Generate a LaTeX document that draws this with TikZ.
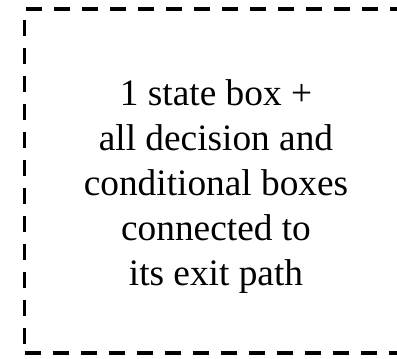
\documentclass[tikz,border=0pt]{standalone}
\usepackage{fontspec}
\setmainfont{Liberation Serif}
\begin{document}
\begin{tikzpicture}[x=0.75pt, y=-0.75pt, groupbox/.style={draw, dash pattern=on 12pt off 9pt, line width=2.5pt, minimum width=287pt, minimum height=258pt}, grouptext/.style={align=center, font=\fontsize{28}{33.75}\selectfont}]
\useasboundingbox (0,0) rectangle (397,359);
\node[groupbox] (group) at (216,181) {};
\node[grouptext] (label) at (216,187) {1 state box +\\all decision and\\conditional boxes\\connected to\\its exit path};
\end{tikzpicture}
\end{document}
